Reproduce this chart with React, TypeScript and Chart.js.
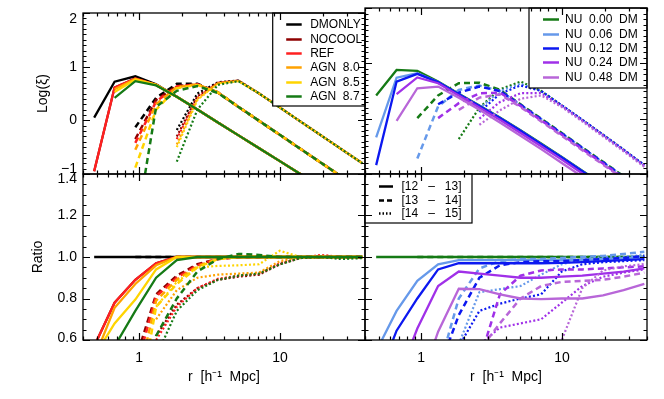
import React, { useEffect, useRef } from 'react';
import { Chart, registerables } from 'chart.js';
Chart.register(...registerables);

const N = null;

// radial bins [h^-1 Mpc]
const R = [0.48, 0.67, 0.94, 1.32, 1.85, 2.59, 3.62, 5.07, 7.1, 9.95, 13.9, 19.5, 27.3, 38.3];

// legend texts
const SIM_NAMES = ['DMONLY', 'NOCOOL', 'REF', 'AGN  8.0', 'AGN  8.5', 'AGN  8.7'];
const NU_NAMES = ['NU  0.00  DM', 'NU  0.06  DM', 'NU  0.12  DM', 'NU  0.24  DM', 'NU  0.48  DM'];
const BIN_NAMES = ['[12   \u2013   13]', '[13   \u2013   14]', '[14   \u2013   15]'];

// axis ticks
const X_TICKS = [1, 10];
const YTICKS_XI = [-1, 0, 1, 2];
const YTICKS_RATIO = [0.6, 0.8, 1.0, 1.2, 1.4];

// ---- Log(xi), hydro sims: [12-13, 13-14, 14-15]
const XI_DMONLY = [
  [0.05, 0.72, 0.82, 0.67, 0.44, 0.2, -0.04, -0.28, -0.52, -0.76, -1.0, -1.24, -1.48, -1.72],
  [N, N, -0.13, 0.42, 0.68, 0.68, 0.52, 0.25, -0.01, -0.27, -0.53, -0.79, -1.05, -1.31],
  [N, N, N, N, -0.18, 0.5, 0.71, 0.74, 0.5, 0.24, -0.02, -0.28, -0.54, -0.8],
];
const XI_NOCOOL = [
  [-0.95, 0.61, 0.78, 0.66, 0.44, 0.2, -0.04, -0.28, -0.52, -0.76, -1.0, -1.24, -1.48, -1.72],
  [N, N, -0.35, 0.38, 0.64, 0.67, 0.52, 0.25, -0.01, -0.27, -0.53, -0.79, -1.05, -1.31],
  [N, N, N, N, -0.3, 0.45, 0.7, 0.74, 0.5, 0.24, -0.02, -0.28, -0.54, -0.8],
];
const XI_REF = [
  [-0.95, 0.61, 0.78, 0.66, 0.44, 0.2, -0.04, -0.28, -0.52, -0.76, -1.0, -1.24, -1.48, -1.72],
  [N, N, -0.42, 0.35, 0.63, 0.67, 0.52, 0.25, -0.01, -0.27, -0.53, -0.79, -1.05, -1.31],
  [N, N, N, N, -0.35, 0.42, 0.7, 0.74, 0.5, 0.24, -0.02, -0.28, -0.54, -0.8],
];
const XI_AGN80 = [
  [N, 0.58, 0.77, 0.66, 0.44, 0.2, -0.04, -0.28, -0.52, -0.76, -1.0, -1.24, -1.48, -1.72],
  [N, N, -0.55, 0.3, 0.62, 0.67, 0.52, 0.25, -0.01, -0.27, -0.53, -0.79, -1.05, -1.31],
  [N, N, N, N, -0.45, 0.4, 0.69, 0.74, 0.5, 0.24, -0.02, -0.28, -0.54, -0.8],
];
const XI_AGN85 = [
  [N, 0.53, 0.76, 0.66, 0.44, 0.2, -0.04, -0.28, -0.52, -0.76, -1.0, -1.24, -1.48, -1.72],
  [N, N, -0.88, 0.2, 0.6, 0.66, 0.52, 0.25, -0.01, -0.27, -0.53, -0.79, -1.05, -1.31],
  [N, N, N, N, -0.5, 0.38, 0.69, 0.73, 0.5, 0.24, -0.02, -0.28, -0.54, -0.8],
];
const XI_AGN87 = [
  [N, 0.42, 0.73, 0.65, 0.44, 0.2, -0.04, -0.28, -0.52, -0.76, -1.0, -1.24, -1.48, -1.72],
  [N, N, -2.1, 0.25, 0.55, 0.64, 0.51, 0.25, -0.01, -0.27, -0.53, -0.79, -1.05, -1.31],
  [N, N, N, N, -0.77, 0.2, 0.66, 0.73, 0.5, 0.24, -0.02, -0.28, -0.54, -0.8],
];

// ---- Ratio, hydro sims
const RATIO_DMONLY = [
  [1, 1, 1, 1, 1, 1, 1, 1, 1, 1, 1, 1, 1, 1],
  [N, N, 1, 1, 1, 1, 1, 1, 1, 1, 1, 1, 1, 1],
  [N, N, N, 1, 1, 1, 1, 1, 1, 1, 1, 1, 1, 1],
];
const RATIO_NOCOOL = [
  [0.57, 0.78, 0.89, 0.97, 1.0, 1.0, 1.0, 1.0, 1.0, 1.0, 1.0, 1.0, 1.0, 1.0],
  [N, N, 0.5, 0.82, 0.91, 0.965, 0.99, 1.0, 1.0, 1.0, 1.0, 1.0, 1.0, 1.0],
  [N, N, N, 0.62, 0.77, 0.85, 0.89, 0.905, 0.915, 0.965, 0.995, 1.0, 0.995, 1.0],
];
const RATIO_REF = [
  [0.57, 0.78, 0.89, 0.97, 1.0, 1.0, 1.0, 1.0, 1.0, 1.0, 1.0, 1.0, 1.0, 1.0],
  [N, N, 0.45, 0.81, 0.9, 0.96, 0.99, 1.0, 1.0, 1.0, 1.0, 1.0, 1.0, 1.0],
  [N, N, N, 0.6, 0.76, 0.85, 0.895, 0.91, 0.92, 0.97, 0.995, 1.01, 1.0, 0.995],
];
const RATIO_AGN80 = [
  [0.51, 0.755, 0.87, 0.96, 1.0, 1.0, 1.0, 1.0, 1.0, 1.0, 1.0, 1.0, 1.0, 1.0],
  [N, N, 0.35, 0.79, 0.89, 0.955, 0.99, 1.0, 1.0, 1.0, 1.0, 1.0, 1.0, 1.0],
  [N, N, N, 0.7, 0.84, 0.9, 0.915, 0.92, 0.925, 0.98, 1.0, 1.0, 1.0, 1.0],
];
const RATIO_AGN85 = [
  [0.52, 0.68, 0.795, 0.94, 1.0, 1.0, 1.0, 1.0, 1.0, 1.0, 1.0, 1.0, 1.0, 1.0],
  [N, N, 0.2, 0.76, 0.87, 0.95, 0.99, 1.0, 1.0, 1.0, 1.0, 1.0, 1.0, 1.0],
  [N, N, N, 0.76, 0.88, 0.95, 0.957, 0.96, 0.965, 1.03, 1.0, 1.0, 1.0, 1.0],
];
const RATIO_AGN87 = [
  [0.4, 0.57, 0.74, 0.9, 0.985, 1.0, 1.0, 1.0, 1.0, 1.0, 1.0, 1.0, 1.0, 1.0],
  [N, N, 0.0, 0.62, 0.8, 0.93, 0.99, 1.015, 1.01, 1.0, 1.0, 1.0, 1.0, 1.0],
  [N, N, N, 0.52, 0.74, 0.84, 0.89, 0.91, 0.92, 0.965, 0.995, 1.0, 0.99, 0.995],
];

// ---- Log(xi), neutrino sims
const XI_NU000 = [
  [0.42, 0.88, 0.865, 0.67, 0.45, 0.24, 0.02, -0.21, -0.45, -0.69, -0.94, -1.19, -1.44, -1.69],
  [N, N, 0.01, 0.42, 0.64, 0.65, 0.52, 0.26, 0.0, -0.26, -0.52, -0.78, -1.04, -1.3],
  [N, N, N, N, -0.37, 0.2, 0.53, 0.67, 0.5, 0.24, -0.02, -0.29, -0.56, -0.84],
];
const XI_NU006 = [
  [-0.34, 0.74, 0.82, 0.66, 0.44, 0.23, 0.01, -0.22, -0.46, -0.7, -0.95, -1.2, -1.45, -1.7],
  [N, N, -0.72, 0.22, 0.52, 0.6, 0.5, 0.25, -0.01, -0.27, -0.53, -0.79, -1.05, -1.31],
  [N, N, N, N, N, 0.18, 0.5, 0.63, 0.5, 0.24, -0.02, -0.29, -0.56, -0.84],
];
const XI_NU012 = [
  [-0.84, 0.67, 0.81, 0.66, 0.44, 0.23, 0.01, -0.22, -0.46, -0.7, -0.95, -1.2, -1.45, -1.7],
  [N, N, N, 0.26, 0.47, 0.58, 0.5, 0.25, -0.01, -0.27, -0.53, -0.79, -1.05, -1.31],
  [N, N, N, N, N, 0.12, 0.45, 0.6, 0.5, 0.24, -0.02, -0.29, -0.56, -0.84],
];
const XI_NU024 = [
  [N, 0.445, 0.745, 0.64, 0.42, 0.2, -0.02, -0.26, -0.5, -0.74, -0.99, -1.24, -1.49, -1.74],
  [N, N, N, 0.01, 0.28, 0.46, 0.47, 0.23, -0.03, -0.29, -0.55, -0.81, -1.07, -1.33],
  [N, N, N, N, N, 0.0, 0.3, 0.46, 0.46, 0.23, -0.03, -0.3, -0.57, -0.85],
];
const XI_NU048 = [
  [N, -0.04, 0.55, 0.58, 0.38, 0.16, -0.07, -0.31, -0.55, -0.8, -1.05, -1.3, -1.55, -1.8],
  [N, N, N, N, 0.16, 0.38, 0.44, 0.21, -0.05, -0.31, -0.57, -0.83, -1.09, -1.35],
  [N, N, N, N, N, -0.11, 0.15, 0.36, 0.42, 0.21, -0.05, -0.32, -0.59, -0.87],
];

// ---- Ratio, neutrino sims
const RATIO_NU000 = [
  [1, 1, 1, 1, 1, 1, 1, 1, 1, 1, 1, 1, 1, 1],
  [N, N, 1, 1, 1, 1, 1, 1, 1, 1, 1, 1, 1, 1],
  [N, N, N, N, 1, 1, 1, 1, 1, 1, 1, 1, 1, 1],
];
const RATIO_NU006 = [
  [0.546, 0.74, 0.885, 0.965, 0.985, 0.985, 0.985, 0.985, 0.985, 0.985, 0.985, 0.99, 0.995, 1.0],
  [N, N, 0.2, 0.45, 0.8, 0.945, 0.98, 0.99, 0.99, 0.995, 1.0, 1.005, 1.015, 1.025],
  [N, N, N, N, 0.58, 0.83, 0.845, 0.86, 0.915, 0.965, 0.99, 1.0, 1.0, 1.01],
];
const RATIO_NU012 = [
  [0.39, 0.645, 0.8, 0.94, 0.97, 0.97, 0.97, 0.97, 0.97, 0.972, 0.975, 0.98, 0.985, 0.99],
  [N, N, N, 0.45, 0.72, 0.9, 0.96, 0.975, 0.98, 0.98, 0.985, 0.99, 0.995, 1.005],
  [N, N, N, N, 0.57, 0.74, 0.775, 0.8, 0.82, 0.93, 0.965, 0.975, 0.98, 0.985],
];
const RATIO_NU024 = [
  [N, 0.4, 0.655, 0.86, 0.93, 0.92, 0.91, 0.9, 0.9, 0.905, 0.91, 0.92, 0.93, 0.945],
  [N, N, N, 0.2, 0.35, 0.5, 0.82, 0.91, 0.935, 0.94, 0.94, 0.945, 0.95, 0.955],
  [N, N, N, N, 0.3, 0.575, 0.66, 0.68, 0.7, 0.78, 0.86, 0.905, 0.925, 0.94],
];
const RATIO_NU048 = [
  [N, 0.1, 0.35, 0.64, 0.847, 0.845, 0.82, 0.8, 0.797, 0.8, 0.8, 0.815, 0.84, 0.87],
  [N, N, N, N, 0.3, 0.55, 0.68, 0.8, 0.86, 0.88, 0.885, 0.89, 0.905, 0.925],
  [N, N, N, N, N, 0.1, 0.2, 0.3, 0.4, 0.6, 0.85, 0.935, 0.955, 0.966],
];

// ---------- styles ----------
const SIM_COLORS = ['#000000', '#8e0000', '#ff2020', '#ffa200', '#ffd400', '#157a15'];
const NU_COLORS = ['#157a15', '#6699ea', '#0c18f0', '#a030e8', '#b866d8'];
const BIN_DASH = [[], [6, 4], [2, 2.2]];
const BIN_WIDTH = [2.3, 2.5, 2.2];
const FONT = "'Liberation Sans', Arial, Helvetica, sans-serif";

function buildDatasets(groups: any[][], colors: string[]) {
  const out: any[] = [];
  groups.forEach((g, s) => {
    g.forEach((vals: any[], b: number) => {
      out.push({
        data: R.map((r, i) => ({ x: r, y: vals[i] })),
        borderColor: colors[s],
        borderWidth: BIN_WIDTH[b],
        borderDash: BIN_DASH[b],
        borderCapStyle: 'butt',
        pointRadius: 0,
        fill: false,
        tension: 0,
        clip: 0,
        spanGaps: false,
      });
    });
  });
  // Chart.js paints dataset 0 on top; reverse so later series lie on top
  return out.reverse();
}

type ExtraLabel = { text: string; value: number; dy: number };

function framePlugin(yMajor: number, yMinor: number, extraLabels: ExtraLabel[]) {
  return {
    id: 'idlFrame',
    afterDraw(chart: any) {
      const { ctx, chartArea: a, scales } = chart;
      const x = scales.x, y = scales.y;
      ctx.save();
      ctx.strokeStyle = '#000';
      ctx.lineWidth = 1.2;
      ctx.beginPath();
      for (const dec of [0.1, 1, 10]) {
        for (let k = 1; k <= 9; k++) {
          const v = dec * k;
          if (v < x.min - 1e-9 || v > x.max + 1e-9) continue;
          const px = Math.round(x.getPixelForValue(v)) + 0.5;
          const len = k === 1 ? 7 : 3.5;
          ctx.moveTo(px, a.bottom); ctx.lineTo(px, a.bottom - len);
          ctx.moveTo(px, a.top); ctx.lineTo(px, a.top + len);
        }
      }
      const n = Math.round((y.max - y.min) / yMinor);
      for (let i = 0; i <= n; i++) {
        const v = y.min + i * yMinor;
        const q = v / yMajor;
        const major = Math.abs(q - Math.round(q)) < 1e-6;
        const py = Math.round(y.getPixelForValue(v)) + 0.5;
        const len = major ? 7 : 3.5;
        ctx.moveTo(a.left, py); ctx.lineTo(a.left + len, py);
        ctx.moveTo(a.right, py); ctx.lineTo(a.right - len, py);
      }
      ctx.stroke();
      ctx.lineWidth = 1.3;
      ctx.strokeRect(a.left, a.top, a.right - a.left, a.bottom - a.top);
      ctx.fillStyle = '#000';
      ctx.font = `14px ${FONT}`;
      ctx.textAlign = 'right';
      ctx.textBaseline = 'middle';
      for (const e of extraLabels) {
        ctx.fillText(e.text, a.left - 6, y.getPixelForValue(e.value) + e.dy);
      }
      ctx.restore();
    },
  };
}

type LegendCfg = {
  anchor: 'right' | 'left';
  w: number; h: number; row0: number; step: number;
  lx0: number; lx1: number; tx: number;
  items: { label: string; color: string; dash: number[] }[];
};

function legendPlugin(cfg: LegendCfg) {
  return {
    id: 'idlLegend',
    afterDraw(chart: any) {
      const { ctx, chartArea: a } = chart;
      const x0 = cfg.anchor === 'right' ? a.right - cfg.w : a.left;
      const y0 = a.top;
      ctx.save();
      ctx.fillStyle = '#fff';
      ctx.fillRect(x0, y0, cfg.w, cfg.h);
      ctx.strokeStyle = '#000';
      ctx.lineWidth = 1.2;
      ctx.strokeRect(x0, y0, cfg.w, cfg.h);
      ctx.font = `12px ${FONT}`;
      ctx.textAlign = 'left';
      ctx.textBaseline = 'middle';
      cfg.items.forEach((it, i) => {
        const yy = Math.round(y0 + cfg.row0 + cfg.step * i) + 0.5;
        ctx.strokeStyle = it.color;
        ctx.lineWidth = 2.5;
        ctx.setLineDash(it.dash);
        ctx.beginPath();
        ctx.moveTo(x0 + cfg.lx0, yy);
        ctx.lineTo(x0 + cfg.lx1, yy);
        ctx.stroke();
        ctx.setLineDash([]);
        ctx.fillStyle = '#000';
        ctx.fillText(it.label, x0 + cfg.tx, yy + 0.5);
      });
      ctx.restore();
    },
  };
}

type PanelCfg = {
  datasets: any[];
  area: { l: number; t: number; r: number; b: number };
  showX: boolean;
  showY: boolean;
  yPadL: number;
  yMin: number; yMax: number;
  yTicks: number[];
  yTitle: string;
  yMajor: number; yMinor: number;
  extraLabels: ExtraLabel[];
  legend?: LegendCfg;
};

const W = 664, H = 399, XAXIS_H = 48;

function makeConfig(p: PanelCfg): any {
  const padL = p.showY ? p.yPadL : p.area.l;
  const padB = p.showX ? H - p.area.b - XAXIS_H : H - p.area.b;
  const plugins: any[] = [];
  if (p.legend) plugins.push(legendPlugin(p.legend));
  plugins.push(framePlugin(p.yMajor, p.yMinor, p.extraLabels));
  const hidden = p.extraLabels.map((e) => e.value);
  return {
    type: 'line',
    data: { datasets: p.datasets },
    plugins,
    options: {
      animation: false,
      responsive: false,
      maintainAspectRatio: false,
      events: [],
      layout: { padding: { left: padL, top: p.area.t, right: W - p.area.r, bottom: padB } },
      plugins: { legend: { display: false }, tooltip: { enabled: false }, title: { display: false } },
      scales: {
        x: {
          type: 'logarithmic',
          min: 0.4,
          max: 40,
          display: p.showX,
          grid: { display: false, drawTicks: false },
          border: { display: false },
          afterBuildTicks: (s: any) => { s.ticks = X_TICKS.map((v) => ({ value: v, major: true })); },
          afterFit: (s: any) => { s.height = p.showX ? XAXIS_H : 0; },
          ticks: {
            autoSkip: false,
            maxRotation: 0,
            padding: 11,
            color: '#000',
            font: { family: FONT, size: 14, lineHeight: 1 },
            callback: (v: any) => String(v),
          },
          title: {
            display: p.showX,
            text: 'r  [h\u207B\u00B9  Mpc]',
            color: '#000',
            font: { family: FONT, size: 14, lineHeight: 1.2 },
            padding: { top: 2, bottom: 2 },
          },
        },
        y: {
          type: 'linear',
          min: p.yMin,
          max: p.yMax,
          display: p.showY,
          grid: { display: false, drawTicks: false },
          border: { display: false },
          afterBuildTicks: (s: any) => { s.ticks = p.yTicks.map((v) => ({ value: v })); },
          afterFit: (s: any) => { s.width = p.showY ? p.area.l - p.yPadL : 0; },
          ticks: {
            autoSkip: false,
            padding: 6,
            color: '#000',
            font: { family: FONT, size: 14, lineHeight: 1 },
            callback: (v: any) => {
              if (hidden.some((h) => Math.abs(v - h) < 1e-9)) return '';
              return p.yMajor < 1 ? Number(v).toFixed(1) : String(v).replace('-', '\u2212');
            },
          },
          title: {
            display: p.showY,
            text: p.yTitle,
            color: '#000',
            font: { family: FONT, size: 14, lineHeight: 1.2 },
            padding: { top: 4, bottom: 4 },
          },
        },
      },
    },
  };
}

const TOP = { t: 8, b: 174 };
const BOT = { t: 174, b: 340 };
const LEFT = { l: 83, r: 365 };
const RIGHT = { l: 365, r: 647 };

function Panel({ cfg }: { cfg: PanelCfg }) {
  const ref = useRef<HTMLCanvasElement | null>(null);
  useEffect(() => {
    if (!ref.current) return;
    const chart = new Chart(ref.current, makeConfig(cfg));
    return () => chart.destroy();
  }, []);
  return (
    <canvas
      ref={ref}
      width={W}
      height={H}
      style={{ position: 'absolute', left: 0, top: 0, width: W, height: H }}
    />
  );
}

export default function App() {
  const hydroXi = [XI_DMONLY, XI_NOCOOL, XI_REF, XI_AGN80, XI_AGN85, XI_AGN87];
  const hydroRatio = [RATIO_DMONLY, RATIO_NOCOOL, RATIO_REF, RATIO_AGN80, RATIO_AGN85, RATIO_AGN87];
  const nuXi = [XI_NU000, XI_NU006, XI_NU012, XI_NU024, XI_NU048];
  const nuRatio = [RATIO_NU000, RATIO_NU006, RATIO_NU012, RATIO_NU024, RATIO_NU048];

  const panels: PanelCfg[] = [
    {
      datasets: buildDatasets(hydroXi, SIM_COLORS),
      area: { l: LEFT.l, r: LEFT.r, t: TOP.t, b: TOP.b },
      showX: false, showY: true, yPadL: 31,
      yMin: -1, yMax: 2, yTicks: YTICKS_XI, yTitle: 'Log(\u03BE)',
      yMajor: 1, yMinor: 0.1,
      extraLabels: [
        { text: '2', value: 2, dy: 6 },
        { text: '\u22121', value: -1, dy: -5 },
      ],
      legend: {
        anchor: 'right', w: 92.3, h: 93, row0: 11.3, step: 14.3, lx0: 13.5, lx1: 29, tx: 37.5,
        items: SIM_NAMES.map((n, i) => ({ label: n, color: SIM_COLORS[i], dash: [] })),
      },
    },
    {
      datasets: buildDatasets(nuXi, NU_COLORS),
      area: { l: RIGHT.l, r: RIGHT.r, t: TOP.t, b: TOP.b },
      showX: false, showY: false, yPadL: 0,
      yMin: -1, yMax: 2, yTicks: YTICKS_XI, yTitle: '',
      yMajor: 1, yMinor: 0.1,
      extraLabels: [],
      legend: {
        anchor: 'right', w: 118, h: 80, row0: 11.3, step: 14.3, lx0: 14, lx1: 30, tx: 36,
        items: NU_NAMES.map((n, i) => ({ label: n, color: NU_COLORS[i], dash: [] })),
      },
    },
    {
      datasets: buildDatasets(hydroRatio, SIM_COLORS),
      area: { l: LEFT.l, r: LEFT.r, t: BOT.t, b: BOT.b },
      showX: true, showY: true, yPadL: 26,
      yMin: 0.6, yMax: 1.4, yTicks: YTICKS_RATIO, yTitle: 'Ratio',
      yMajor: 0.2, yMinor: 0.05,
      extraLabels: [
        { text: '1.4', value: 1.4, dy: 5 },
        { text: '0.6', value: 0.6, dy: -2 },
      ],
    },
    {
      datasets: buildDatasets(nuRatio, NU_COLORS),
      area: { l: RIGHT.l, r: RIGHT.r, t: BOT.t, b: BOT.b },
      showX: true, showY: false, yPadL: 0,
      yMin: 0.6, yMax: 1.4, yTicks: YTICKS_RATIO, yTitle: '',
      yMajor: 0.2, yMinor: 0.05,
      extraLabels: [],
      legend: {
        anchor: 'left', w: 107, h: 49, row0: 12, step: 13.5, lx0: 14, lx1: 28, tx: 36.5,
        items: BIN_NAMES.map((n, i) => ({ label: n, color: '#000', dash: [[], [5, 3], [1.5, 2]][i] })),
      },
    },
  ];

  return (
    <div style={{ position: 'absolute', left: 0, top: 0, width: W, height: H, background: '#fff', overflow: 'hidden' }}>
      {panels.map((p, i) => (
        <Panel key={i} cfg={p} />
      ))}
    </div>
  );
}
